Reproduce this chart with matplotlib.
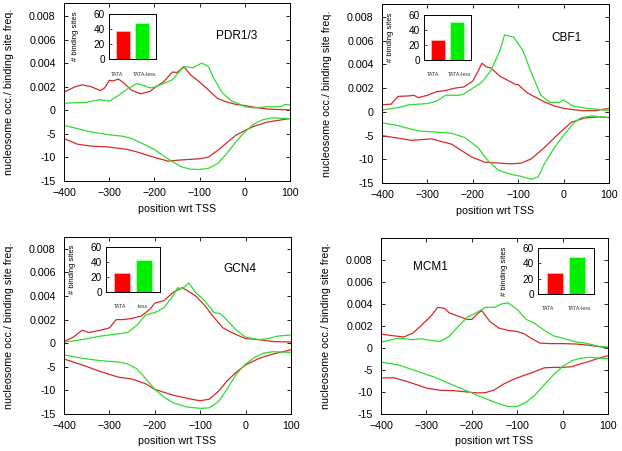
import matplotlib
matplotlib.use("Agg")
import matplotlib.pyplot as plt

plt.rcParams['font.family'] = ['Liberation Sans', 'DejaVu Sans']

RED = '#d42a2a'
GREEN = '#2fdc2f'
BAR_RED = '#ff0000'
BAR_GREEN = '#00ee00'

# ---------------- data ----------------
panel_names = ['PDR1/3', 'CBF1', 'GCN4', 'MCM1']
bar_labels = [['TATA', 'TATA-less'], ['TATA', 'TATA-less'], ['TATA', '-less'], ['TATA', 'TATA-less']]
bar_tata = [37, 27, 26, 28]
bar_tataless = [48, 51, 43, 48]

# PDR1/3
pdr_freq_tata_x = [-400, -375, -360, -340, -320, -310, -300, -290, -280, -270, -250, -230, -210, -200, -180, -160, -150, -135, -120, -100, -80, -60, -40, -20, 0, 20, 50, 100]
pdr_freq_tata = [0.00154, 0.0020, 0.00216, 0.0020, 0.00168, 0.0019, 0.00253, 0.0025, 0.00265, 0.0024, 0.00168, 0.0014, 0.0016, 0.0019, 0.0024, 0.00325, 0.0032, 0.0037, 0.0030, 0.0024, 0.0017, 0.0010, 0.0007, 0.0005, 0.0004, 0.00026, 0.0001, 0.00003]
pdr_freq_less_x = [-400, -350, -320, -300, -280, -260, -240, -230, -210, -200, -180, -160, -140, -130, -115, -95, -80, -70, -50, -30, -10, 0, 20, 50, 80, 90, 100]
pdr_freq_less = [0.0006, 0.00068, 0.0009, 0.00077, 0.00125, 0.0018, 0.00225, 0.0022, 0.0019, 0.00196, 0.00225, 0.0026, 0.0035, 0.0037, 0.0036, 0.0040, 0.0037, 0.0028, 0.0015, 0.0008, 0.0005, 0.0003, 0.0002, 0.0003, 0.0003, 0.0005, 0.00045]
pdr_occ_tata_x = [-400, -370, -340, -300, -260, -240, -220, -200, -180, -170, -150, -120, -100, -80, -60, -40, -20, 0, 20, 50, 100]
pdr_occ_tata = [-6.0, -7.2, -7.6, -7.8, -8.3, -8.8, -9.4, -10.0, -10.5, -10.8, -10.6, -10.4, -10.3, -9.9, -8.5, -6.9, -5.3, -4.3, -3.4, -2.5, -1.75]
pdr_occ_less_x = [-400, -370, -340, -300, -270, -250, -230, -200, -180, -160, -140, -120, -100, -80, -60, -40, -20, 0, 20, 40, 60, 80, 100]
pdr_occ_less = [-3.2, -3.9, -4.6, -5.2, -5.5, -6.0, -6.9, -8.3, -9.7, -10.9, -12.0, -12.5, -12.55, -12.3, -11.3, -9.2, -6.7, -4.6, -2.9, -2.0, -1.6, -1.7, -1.8]

# CBF1
cbf_freq_tata_x = [-400, -380, -365, -340, -330, -320, -300, -280, -260, -240, -220, -200, -190, -180, -170, -160, -140, -120, -105, -100, -80, -60, -40, -20, 0, 40, 70, 100]
cbf_freq_tata = [0.0006, 0.00065, 0.0013, 0.00135, 0.0014, 0.0012, 0.0014, 0.0017, 0.0018, 0.0020, 0.0021, 0.0026, 0.0033, 0.0041, 0.0038, 0.0037, 0.0030, 0.0026, 0.0023, 0.0023, 0.0016, 0.0012, 0.0008, 0.0005, 0.0003, 0.0001, 0.0001, 0.0003]
cbf_freq_less_x = [-400, -360, -340, -300, -280, -260, -230, -220, -200, -180, -160, -140, -130, -110, -90, -70, -50, -30, -10, 0, 20, 50, 80, 100]
cbf_freq_less = [0.00015, 0.0004, 0.0006, 0.0007, 0.0009, 0.0014, 0.0014, 0.0015, 0.0020, 0.0025, 0.0035, 0.0052, 0.0065, 0.0063, 0.0052, 0.0032, 0.0014, 0.0008, 0.0008, 0.0010, 0.0005, 0.0003, 0.0002, 0.0001]
cbf_occ_tata_x = [-400, -335, -291, -247, -203, -174, -144, -115, -93, -71, -42, -12, 17, 46, 76, 100]
cbf_occ_tata = [-5.0, -6.0, -5.7, -6.8, -9.5, -10.6, -10.8, -10.95, -10.8, -9.9, -7.5, -4.7, -2.2, -1.3, -1.05, -1.2]
cbf_occ_less_x = [-400, -365, -321, -291, -247, -218, -189, -167, -144, -115, -93, -71, -56, -42, -20, 2, 24, 39, 61, 100]
cbf_occ_less = [-2.3, -2.9, -4.0, -4.2, -4.5, -5.4, -7.5, -10.25, -12.3, -13.2, -13.6, -14.2, -13.7, -10.9, -7.5, -4.7, -2.2, -1.2, -0.85, -1.2]

# GCN4
gcn_freq_tata_x = [-400, -380, -360, -345, -320, -300, -285, -270, -250, -230, -210, -200, -180, -160, -140, -130, -110, -90, -70, -50, -30, -10, 0, 30, 60, 100]
gcn_freq_tata = [0.00014, 0.0005, 0.0011, 0.0009, 0.0011, 0.0013, 0.0020, 0.0020, 0.0021, 0.0023, 0.0029, 0.0034, 0.0036, 0.0043, 0.0047, 0.0045, 0.0040, 0.0032, 0.0022, 0.0013, 0.0009, 0.00055, 0.0004, 0.0003, 0.00014, 0.0001]
gcn_freq_less_x = [-400, -360, -320, -280, -260, -240, -220, -200, -180, -160, -150, -140, -125, -110, -90, -70, -55, -40, -20, 0, 30, 50, 70, 100]
gcn_freq_less = [0.0001, 0.0003, 0.0006, 0.0008, 0.0009, 0.0015, 0.0024, 0.0026, 0.0030, 0.0040, 0.0047, 0.0046, 0.0051, 0.0043, 0.0036, 0.0026, 0.0025, 0.0019, 0.0011, 0.0005, 0.0003, 0.0004, 0.0006, 0.0007]
gcn_occ_tata_x = [-400, -360, -320, -280, -250, -220, -200, -160, -120, -100, -80, -60, -40, -20, 0, 30, 60, 100]
gcn_occ_tata = [-3.35, -4.6, -6.0, -7.2, -7.6, -8.6, -9.8, -11.0, -11.85, -12.2, -11.85, -10.2, -7.9, -6.1, -4.6, -3.2, -2.3, -1.4]
gcn_occ_less_x = [-400, -360, -320, -280, -260, -240, -220, -200, -180, -160, -130, -100, -80, -60, -40, -20, 0, 20, 40, 60, 100]
gcn_occ_less = [-2.5, -3.2, -3.7, -4.0, -4.4, -5.4, -7.5, -9.8, -11.4, -12.6, -13.5, -13.8, -13.7, -12.4, -9.6, -6.5, -4.4, -3.0, -2.1, -1.8, -1.95]

# MCM1
mcm_freq_tata_x = [-400, -370, -350, -330, -310, -290, -275, -260, -250, -230, -210, -200, -185, -178, -160, -140, -120, -100, -85, -70, -50, -30, 0, 30, 60, 100]
mcm_freq_tata = [0.00126, 0.0011, 0.0010, 0.00135, 0.0021, 0.0029, 0.0037, 0.0036, 0.0032, 0.0029, 0.0026, 0.0026, 0.0032, 0.0034, 0.0024, 0.0018, 0.0016, 0.0015, 0.0013, 0.0009, 0.00045, 0.0004, 0.0004, 0.00036, 0.00024, 0.0]
mcm_freq_less_x = [-400, -360, -330, -310, -300, -270, -250, -230, -210, -190, -170, -150, -135, -120, -100, -80, -60, -40, -20, 0, 30, 50, 80, 100]
mcm_freq_less = [0.00054, 0.0009, 0.00075, 0.00085, 0.00075, 0.0006, 0.00105, 0.00195, 0.0028, 0.0032, 0.0037, 0.0037, 0.0040, 0.0041, 0.0035, 0.0026, 0.0022, 0.0016, 0.0011, 0.0009, 0.00054, 0.00045, 0.00015, 0.0001]
mcm_occ_tata_x = [-400, -370, -340, -300, -270, -240, -210, -190, -170, -150, -130, -110, -90, -70, -40, -20, 0, 20, 40, 60, 80, 100]
mcm_occ_tata = [-6.8, -6.8, -7.7, -9.1, -9.6, -9.7, -10.0, -10.2, -10.15, -9.5, -8.2, -7.2, -6.4, -5.7, -4.5, -4.4, -4.4, -4.25, -3.6, -3.0, -2.3, -1.75]
mcm_occ_less_x = [-400, -360, -320, -280, -240, -200, -170, -140, -120, -100, -80, -60, -40, -20, 0, 20, 40, 60, 80, 100]
mcm_occ_less = [-3.2, -3.9, -5.3, -6.7, -8.5, -10.2, -11.5, -12.7, -13.3, -13.3, -12.3, -10.6, -8.3, -6.1, -4.2, -2.9, -2.3, -2.1, -2.3, -2.4]

panels = [
    (pdr_freq_tata_x, pdr_freq_tata, pdr_freq_less_x, pdr_freq_less, pdr_occ_tata_x, pdr_occ_tata, pdr_occ_less_x, pdr_occ_less),
    (cbf_freq_tata_x, cbf_freq_tata, cbf_freq_less_x, cbf_freq_less, cbf_occ_tata_x, cbf_occ_tata, cbf_occ_less_x, cbf_occ_less),
    (gcn_freq_tata_x, gcn_freq_tata, gcn_freq_less_x, gcn_freq_less, gcn_occ_tata_x, gcn_occ_tata, gcn_occ_less_x, gcn_occ_less),
    (mcm_freq_tata_x, mcm_freq_tata, mcm_freq_less_x, mcm_freq_less, mcm_occ_tata_x, mcm_occ_tata, mcm_occ_less_x, mcm_occ_less),
]

ytick_labels = ['-15', '-10', '-5', '0', '0.002', '0.004', '0.006', '0.008']
xticks = [-400, -300, -200, -100, 0, 100]

# ---------------- layout ----------------
W, H = 622, 451
fig = plt.figure(figsize=(W / 100, H / 100), dpi=100)

def px_rect(x0, y0, x1, y1):
    return [x0 / W, 1 - y1 / H, (x1 - x0) / W, (y1 - y0) / H]

main_rects = [px_rect(64, 3, 290, 181), px_rect(382, 4, 609, 183),
              px_rect(64, 237, 291, 414), px_rect(381, 238, 608, 414)]
inset_rects = [px_rect(109, 14, 156, 59), px_rect(424, 15, 471, 60),
               px_rect(106, 247, 160, 292), px_rect(538, 248, 594, 294)]
inset_label_pos = [(-0.34, 1.18), (-0.29, 1.18), (-0.12, 0.95), (-0.30, 1.14)]
ytops = [4.55, 4.55, 4.5, 5.0]
title_pos = [(-64, 3.14), (-26, 3.1), (-50, 3.14), (-330, 3.68)]

FREQ_UNIT = 0.002
OCC_UNIT = 5.0

for i, data in enumerate(panels):
    ftx, ft, flx, fl, otx, ot, olx, ol = data
    ax = fig.add_axes(main_rects[i])
    ax.plot(ftx, [v / FREQ_UNIT for v in ft], color=RED, lw=0.9)
    ax.plot(flx, [v / FREQ_UNIT for v in fl], color=GREEN, lw=0.9)
    ax.plot(otx, [v / OCC_UNIT for v in ot], color=RED, lw=0.9)
    ax.plot(olx, [v / OCC_UNIT for v in ol], color=GREEN, lw=0.9)
    ax.set_xlim(-400, 100)
    ax.set_ylim(-3, ytops[i])
    ax.set_yticks(range(-3, 5))
    ax.set_yticklabels(ytick_labels)
    ax.set_xticks(xticks)
    ax.tick_params(direction='in', top=True, right=True, labelsize=7.7, length=3, width=0.6)
    ax.tick_params(axis='y', pad=6)
    ax.tick_params(axis='x', pad=5)
    for s in ax.spines.values():
        s.set_linewidth(0.7)
    ax.set_xlabel('position wrt TSS', fontsize=7.7, labelpad=4)
    ax.set_ylabel('nucleosome occ./ binding site freq.', fontsize=7.7, labelpad=11)
    ax.text(title_pos[i][0], title_pos[i][1], panel_names[i], fontsize=8.5, ha='left', va='center')

    ia = fig.add_axes(inset_rects[i])
    ia.bar([0, 1], [bar_tata[i], bar_tataless[i]], width=0.76,
           color=[BAR_RED, BAR_GREEN], edgecolor=['#ffb0b0', '#b0ffb0'], linewidth=0.6)
    ia.set_xlim(-0.78, 1.78)
    ia.set_ylim(0, 60)
    ia.set_yticks([0, 20, 40, 60])
    ia.set_xticks(list(inset_label_pos[i]))
    ia.set_xticklabels(bar_labels[i], fontsize=3.8, color='#333333')
    ia.tick_params(axis='x', length=0, pad=9)
    ia.tick_params(axis='y', direction='in', labelsize=7.2, length=2, width=0.5, pad=3)
    for s in ia.spines.values():
        s.set_linewidth(0.7)
    ia.set_ylabel('# binding sites', fontsize=5.5, labelpad=10.5)

fig.savefig('out.png', dpi=100)
